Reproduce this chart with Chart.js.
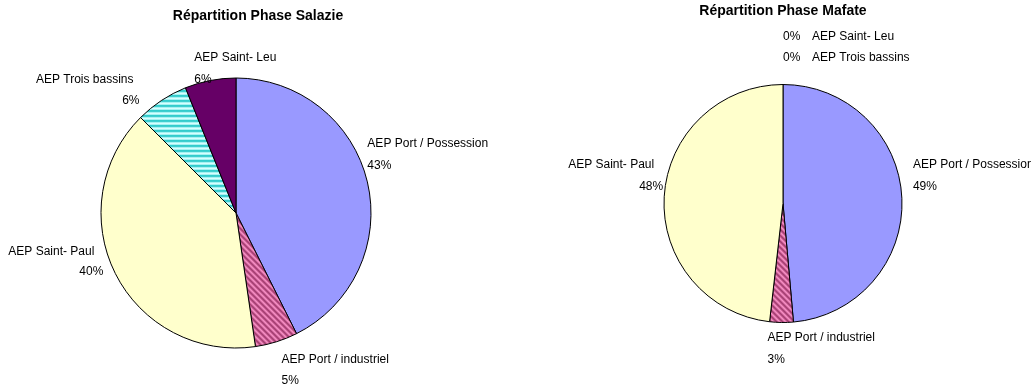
<!DOCTYPE html>
<html><head><meta charset="utf-8">
<script src="https://cdn.jsdelivr.net/npm/chart.js@4/dist/chart.umd.min.js"></script>
<style>
html,body{margin:0;padding:0;background:#fff;width:1031px;height:384px;overflow:hidden}
.box{position:absolute;top:0;height:384px}
</style></head><body>
<div class="box" style="left:0;width:515px"><canvas id="c1" width="515" height="384"></canvas></div>
<div class="box" style="left:515px;width:516px"><canvas id="c2" width="516" height="384"></canvas></div>
<script>
// ---- data ----
const categories = ['AEP Port / Possession', 'AEP Port / industriel', 'AEP Saint- Paul', 'AEP Trois bassins', 'AEP Saint- Leu'];
const salazieValues = [42.6, 5.1, 39.8, 6.4, 6.1];
const mafateValues = [48.6, 3.2, 48.2, 0, 0];
const chartTitles = ['Répartition Phase Salazie', 'Répartition Phase Mafate'];

// ---- styles ----
const FONT = "'Liberation Sans', Arial, sans-serif";
function pixelPattern(w, h, colorAt) {
  const c = document.createElement('canvas'); c.width = w; c.height = h;
  const g = c.getContext('2d');
  for (let y = 0; y < h; y++) for (let x = 0; x < w; x++) { g.fillStyle = colorAt(x, y); g.fillRect(x, y, 1, 1); }
  return g.createPattern(c, 'repeat');
}
const pinkShades = ['#A33D70', '#C45A90', '#E67DB3', '#F590C4', '#D66AA0', '#B24C80'];
const cyanRows = ['#33CCCC', '#3FCFCF', '#A6F2F2', '#D6FFFF', '#A6F2F2'];
const pinkPattern = pixelPattern(6, 6, (x, y) => pinkShades[((x - y) % 6 + 6) % 6]);
const cyanPattern = pixelPattern(1, 5, (x, y) => cyanRows[y]);
const sliceFills = ['#9999FF', pinkPattern, '#FFFFCC', cyanPattern, '#660066'];

// label offsets relative to each slice's outer mid-point: [dx, dy, align]
const salazieLayout = [
  {name: [0, -38, 'left'], pct: [0, -16, 'left']},
  {name: [5, 18, 'left'], pct: [5, 39, 'left']},
  {name: [-21, -22, 'right'], pct: [-12, -1.5, 'right']},
  {name: [-28, -21, 'right'], pct: [-22, 0, 'right']},
  {name: [-16, -23, 'left'], pct: [-16, -1, 'left']}
];
const mafateLayout = [
  {name: [11, -33.5, 'left'], pct: [11, -11.5, 'left']},
  {name: [-14, 15.5, 'left'], pct: [-14, 37.5, 'left']},
  {name: [-10, -32.5, 'right'], pct: [-1, -10.5, 'right']},
  {name: [29, -26.5, 'left'], pct: [0, -26.5, 'left']},
  {name: [29, -47.5, 'left'], pct: [0, -47.5, 'left']}
];

const labelPlugin = {
  id: 'pieLabels',
  afterDatasetsDraw(chart, args, opts) {
    const ctx = chart.ctx;
    const meta = chart.getDatasetMeta(0);
    const vals = chart.data.datasets[0].data;
    const total = vals.reduce((a, b) => a + b, 0);
    ctx.save();
    ctx.fillStyle = '#000';
    ctx.textBaseline = 'middle';
    ctx.font = '12px ' + FONT;
    meta.data.forEach((arc, i) => {
      const p = arc.getProps(['x', 'y', 'startAngle', 'endAngle', 'outerRadius'], true);
      const mid = (p.startAngle + p.endAngle) / 2;
      const ax = p.x + Math.cos(mid) * p.outerRadius;
      const ay = p.y + Math.sin(mid) * p.outerRadius;
      const L = opts.layout[i];
      ctx.textAlign = L.name[2];
      ctx.fillText(chart.data.labels[i], ax + L.name[0], ay + L.name[1]);
      ctx.textAlign = L.pct[2];
      ctx.fillText(Math.round(vals[i] / total * 100) + '%', ax + L.pct[0], ay + L.pct[1]);
    });
    ctx.font = 'bold 14px ' + FONT;
    ctx.textAlign = 'center';
    ctx.fillText(opts.title, opts.titleX, opts.titleY);
    ctx.restore();
  }
};

function makePie(id, values, layout, title, titleX, titleY, padding) {
  return new Chart(document.getElementById(id), {
    type: 'pie',
    data: {
      labels: categories,
      datasets: [{data: values, backgroundColor: sliceFills, borderColor: '#000', borderWidth: 1, hoverOffset: 0}]
    },
    options: {
      responsive: false, animation: false, devicePixelRatio: 1,
      layout: {padding: padding},
      plugins: {
        legend: {display: false}, title: {display: false}, tooltip: {enabled: false},
        pieLabels: {layout: layout, title: title, titleX: titleX, titleY: titleY}
      },
      events: []
    },
    plugins: [labelPlugin]
  });
}

makePie('c1', salazieValues, salazieLayout, chartTitles[0], 258, 16,
  {left: 100.5, top: 77.5, right: 143.5, bottom: 35.5});
makePie('c2', mafateValues, mafateLayout, chartTitles[1], 268, 11.5,
  {left: 148.5, top: 84, right: 128.5, bottom: 61});
</script>
</body></html>
